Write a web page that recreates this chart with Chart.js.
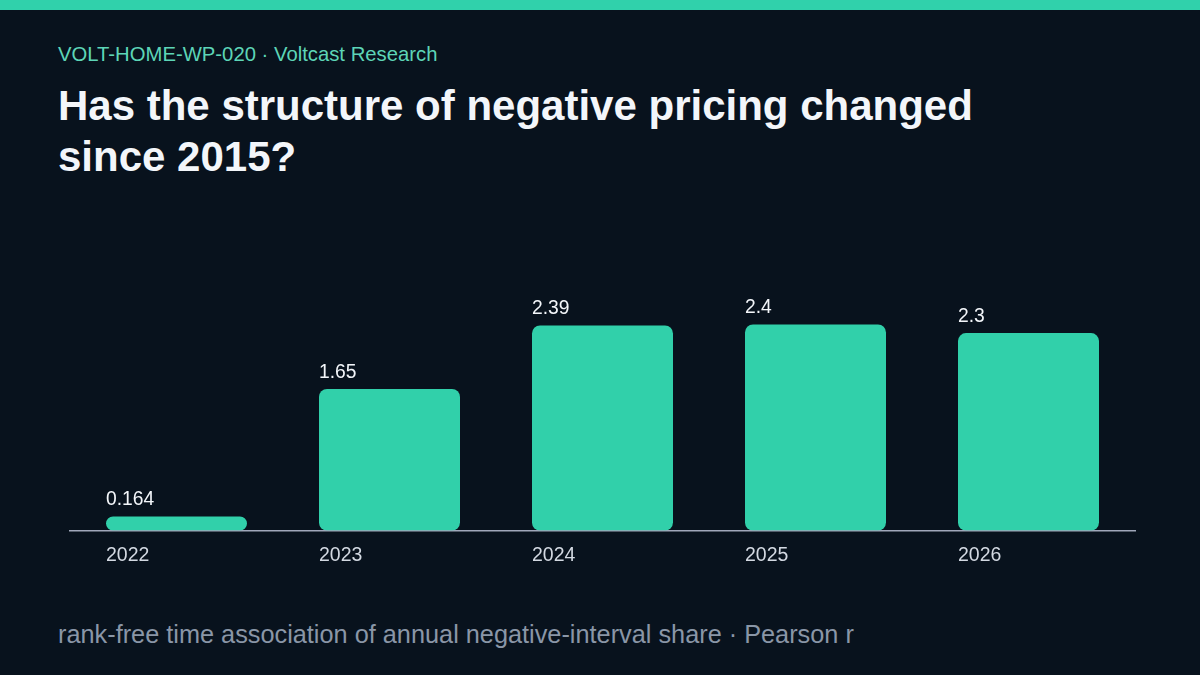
<!DOCTYPE html>
<html>
<head>
<meta charset="utf-8">
<script src="https://cdn.jsdelivr.net/npm/chart.js@4.4.1/dist/chart.umd.min.js"></script>
<style>
  html, body { margin: 0; padding: 0; }
  body {
    width: 1200px; height: 675px; overflow: hidden; position: relative;
    background: #08121d;
    font-family: "Liberation Sans", Arial, sans-serif;
  }
  .accent { position: absolute; left: 0; top: 0; width: 1200px; height: 10px; background: #30d1ab; }
  .kicker { position: absolute; left: 58px; top: 43px; font-size: 20.3px; color: #5dd5b7; }
  .title {
    position: absolute; left: 58px; top: 80px; width: 1100px;
    font-size: 42px; line-height: 51px; font-weight: bold; color: #f3f6fa;
  }
  .footer { position: absolute; left: 58px; top: 620px; font-size: 25.3px; color: #8a96a7; }
  #wrap { position: absolute; left: 0; top: 0; width: 1200px; height: 675px; }
</style>
</head>
<body>
<div class="accent"></div>
<div class="kicker">VOLT-HOME-WP-020 · Voltcast Research</div>
<div class="title">Has the structure of negative pricing changed<br>since 2015?</div>
<div class="footer">rank-free time association of annual negative-interval share · Pearson r</div>
<div id="wrap"><canvas id="chart"></canvas></div>
<script>
// Datos del gráfico
const years = ["2022", "2023", "2024", "2025", "2026"];
const pearsonR = [0.164, 1.65, 2.39, 2.4, 2.3];
const valueLabels = ["0.164", "1.65", "2.39", "2.4", "2.3"];

// Etiquetas de valor sobre cada barra, alineadas al borde izquierdo
const barLabels = {
  id: "barLabels",
  afterDatasetsDraw(chart) {
    const ctx = chart.ctx;
    const meta = chart.getDatasetMeta(0);
    ctx.save();
    ctx.font = "19.3px 'Liberation Sans', Arial, sans-serif";
    ctx.fillStyle = "#f3f6fa";
    ctx.textAlign = "left";
    ctx.textBaseline = "bottom";
    meta.data.forEach((bar, i) => {
      const left = bar.x - bar.width / 2;
      ctx.fillText(valueLabels[i], left, bar.y - 7);
    });
    ctx.restore();
  }
};

const ctx = document.getElementById("chart").getContext("2d");
new Chart(ctx, {
  type: "bar",
  data: {
    labels: years,
    datasets: [
      {
        data: pearsonR,
        backgroundColor: "#31d0aa",
        borderRadius: 8,
        borderSkipped: false,
        categoryPercentage: 1,
        barPercentage: 0.662,
      },
    ],
  },
  options: {
    responsive: true,
    maintainAspectRatio: false,
    animation: false,
    layout: {
      padding: { left: 70, right: 65, top: 273, bottom: 95 },
    },
    plugins: {
      legend: { display: false },
      tooltip: { enabled: false },
    },
    scales: {
      x: {
        grid: { display: false, drawTicks: false },
        border: { display: true, color: "#a0a7ba", width: 1.5 },
        ticks: {
          color: "#d3d9e2",
          font: { family: "'Liberation Sans', Arial, sans-serif", size: 19.5 },
          align: "start",
          labelOffset: -70.5,
          padding: 13,
        },
      },
      y: {
        display: false,
        min: 0,
        max: 3,
      },
    },
  },
  plugins: [barLabels],
});
</script>
</body>
</html>
